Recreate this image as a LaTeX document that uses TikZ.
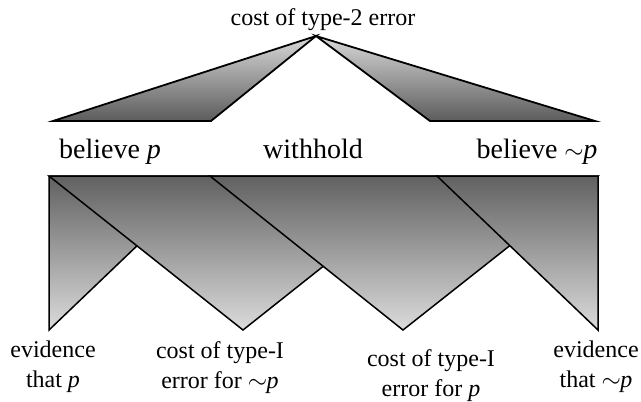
\documentclass[tikz,border=0pt]{standalone}
\usepackage{fontspec}
\setmainfont{Liberation Serif}
\newcommand{\negp}{$\sim$\kern-0.5pt\textit{p}}
\tikzset{
  lowshape/.style={draw=black, line width=1.5pt, top color=black!62, bottom color=black!14, line join=miter},
  upshape/.style={draw=black, line width=1.8pt, top color=black!15, bottom color=black!64, line join=miter},
  toplabel/.style={font=\fontsize{24}{28}\selectfont, inner sep=0pt, anchor=base},
  midlabel/.style={font=\fontsize{28}{32}\selectfont, inner sep=0pt, anchor=base},
  botlabel/.style={font=\fontsize{24}{30}\selectfont, inner sep=0pt, anchor=north, align=center},
}
\begin{document}
\begin{tikzpicture}[x=1pt,y=-1pt]
\useasboundingbox (0,0) rectangle (641,402);
% upper triangles
\coordinate (apex) at (316,36);
\coordinate (tl1) at (53,121);
\coordinate (tl2) at (211,121);
\coordinate (tr1) at (430,121);
\coordinate (tr2) at (595,121);
\draw[upshape] (apex) -- (tl1) -- (tl2) -- cycle;
\draw[upshape] (apex) -- (tr1) -- (tr2) -- cycle;
% lower bands
\coordinate (r0) at (49,176);
\coordinate (r1) at (210,176);
\coordinate (r2) at (437,176);
\coordinate (r3) at (598,176);
\coordinate (b0) at (49,330);
\coordinate (b1) at (243,330);
\coordinate (b2) at (403,330);
\coordinate (b3) at (598,330);
\draw[lowshape] (r0) -- (b0) -- (r1) -- cycle;
\draw[lowshape] (r0) -- (b1) -- (r2) -- cycle;
\draw[lowshape] (r1) -- (b2) -- (r3) -- cycle;
\draw[lowshape] (r2) -- (b3) -- (r3) -- cycle;
% labels
\node[toplabel] (t2) at (323,25) {cost of type-2 error};
\node[midlabel] (bp) at (110,158) {believe \textit{p}};
\node[midlabel] (wh) at (313,158) {withhold};
\node[midlabel] (bnp) at (537,158) {believe \negp};
\node[botlabel] (ep) at (53,341) {evidence\\that \textit{p}};
\node[botlabel] (c1) at (220,341) {cost of type-I\\error for \negp};
\node[botlabel] (c2) at (431,349) {cost of type-I\\error for \textit{p}};
\node[botlabel] (enp) at (596,341) {evidence\\that \negp};
\end{tikzpicture}
\end{document}
